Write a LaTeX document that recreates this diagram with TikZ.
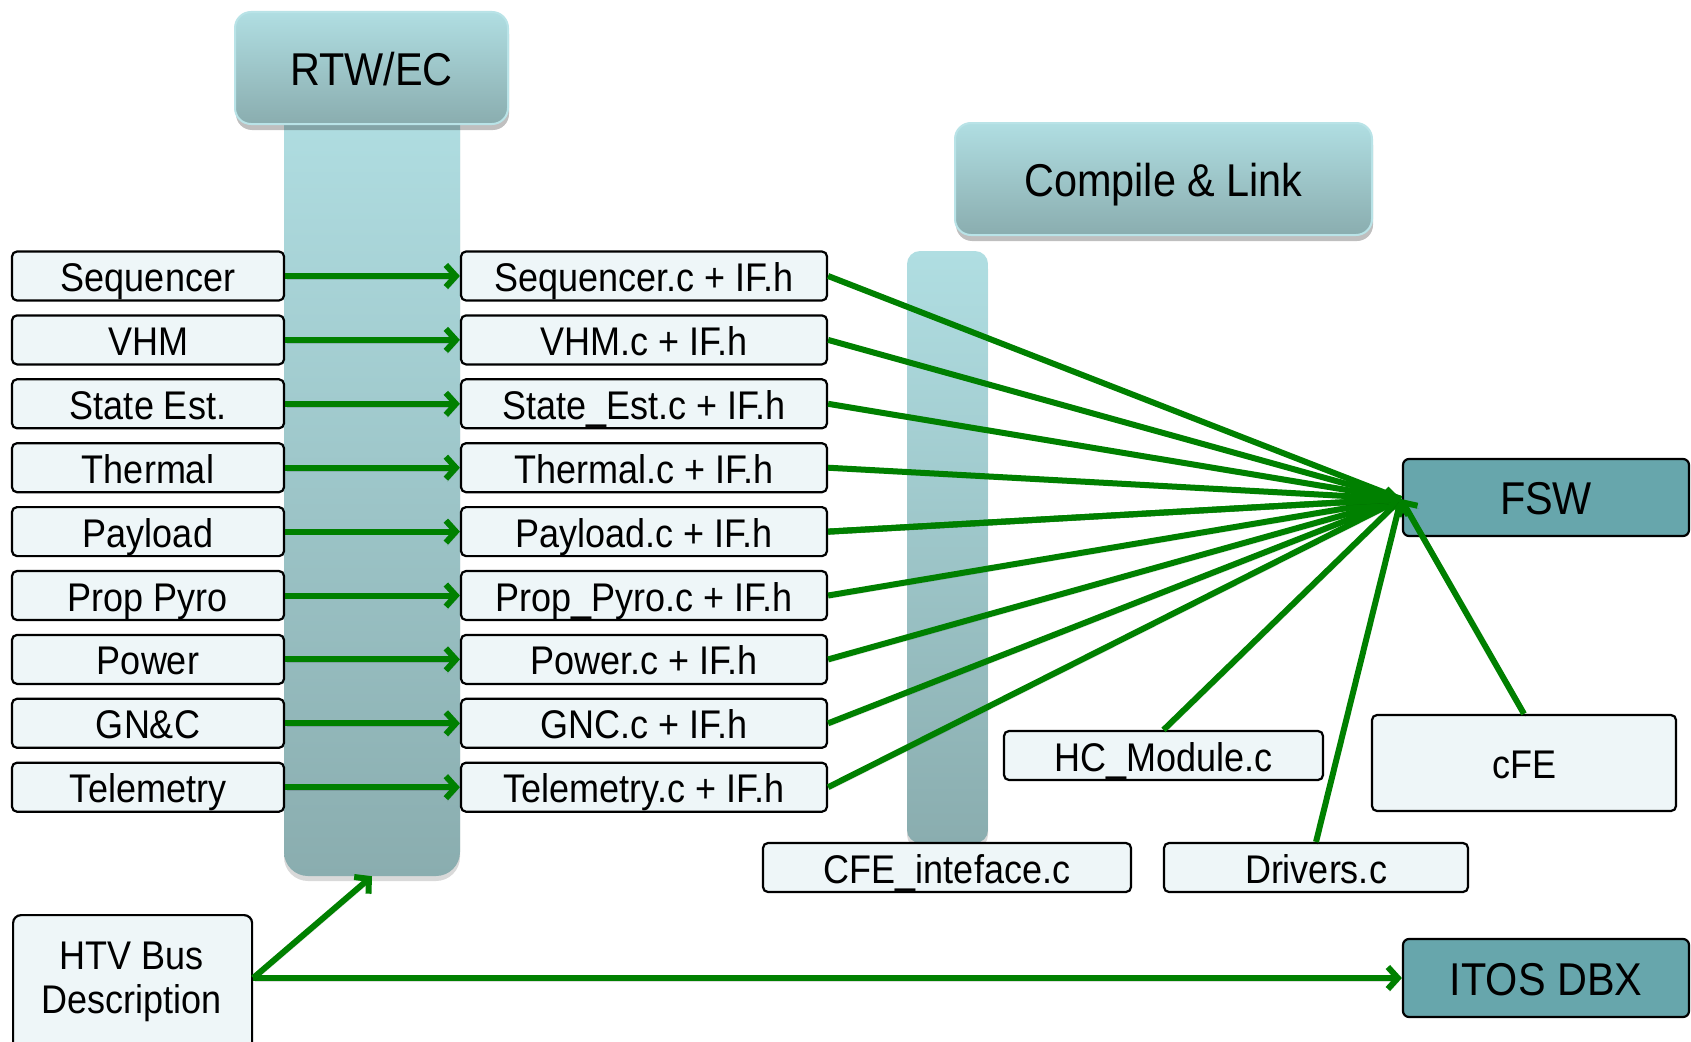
\documentclass[tikz,border=0pt]{standalone}
\usepackage{fontspec}
\setmainfont{Liberation Sans}[FakeStretch=0.9]
\usetikzlibrary{arrows.meta,shadows}

\definecolor{boxfill}{HTML}{EEF6F8}
\definecolor{tealtop}{HTML}{B0DEE2}
\definecolor{tealbot}{HTML}{8AADAF}
\definecolor{tealrim}{HTML}{B9E3E7}
\definecolor{tealdark}{HTML}{67A6AC}
\definecolor{flow}{HTML}{008000}

\tikzset{
  filebox/.style={draw=black, line width=2.2pt, fill=boxfill, rounded corners=5pt,
    inner sep=0pt, text height=33pt, text depth=2pt,
    font=\fontsize{40}{47}\selectfont},
  stagebox/.style={draw=tealrim, line width=2pt, top color=tealtop, bottom color=tealbot,
    rounded corners=16pt, inner sep=0pt, text height=36pt, text depth=2pt,
    drop shadow={shadow xshift=1pt, shadow yshift=-6pt, opacity=0.25, fill=black},
    font=\fontsize{46}{52}\selectfont},
  column/.style={top color=tealtop, bottom color=tealbot, inner sep=0pt,
    drop shadow={shadow xshift=0pt, shadow yshift=-5pt, opacity=0.15, fill=black}},
  targetbox/.style={draw=black, line width=2.2pt, fill=tealdark, rounded corners=6pt,
    inner sep=0pt, text height=36pt, text depth=2pt,
    font=\fontsize{46}{52}\selectfont},
  flowline/.style={draw=flow, line width=6pt,
    preaction={draw=black, opacity=0.13, transform canvas={shift={(1.5pt,-3pt)}}}},
  flowarrow/.style={flowline, -{Straight Barb[length=10pt,width=22pt]}},
}

\begin{document}
\begin{tikzpicture}[x=1pt,y=-1pt]
\clip (0,0) rectangle (1691,1041);
\fill[white] (0,0) rectangle (1691,1041);

% translucent process columns
\node[column, rounded corners=24pt, minimum width=176pt, minimum height=776pt] (col) at (372,488) {};
\node[column, rounded corners=13pt, minimum width=81pt, minimum height=592pt] (link) at (947.5,547) {};

% stage headers
\node[stagebox, minimum width=273pt, minimum height=112pt] (rtw) at (371.5,68) {RTW/EC};
\node[stagebox, minimum width=417pt, minimum height=112pt] (cl) at (1163.5,179) {Compile \& Link};

% model blocks and generated sources
\foreach \i/\l/\m in {0/Sequencer/Sequencer.c + IF.h,
                      1/VHM/VHM.c + IF.h,
                      2/State Est./State\_Est.c + IF.h,
                      3/Thermal/Thermal.c + IF.h,
                      4/Payload/Payload.c + IF.h,
                      5/Prop Pyro/Prop\_Pyro.c + IF.h,
                      6/Power/Power.c + IF.h,
                      7/GN\&C/GNC.c + IF.h,
                      8/Telemetry/Telemetry.c + IF.h}{
  \node[filebox, minimum width=272pt, minimum height=49pt] (l\i) at (148,276+63.9*\i) {\l};
  \node[filebox, minimum width=366pt, minimum height=49pt] (m\i) at (644,276+63.9*\i) {\m};
}

% other sources
\node[filebox, minimum width=319pt, minimum height=49pt] (hc) at (1163.5,755.5) {HC\_Module.c};
\node[filebox, minimum width=304pt, minimum height=96pt] (cfe) at (1524,763) {cFE};
\node[filebox, minimum width=368pt, minimum height=49pt] (cfeif) at (947,867.5) {CFE\_inteface.c};
\node[filebox, minimum width=304pt, minimum height=49pt] (drv) at (1316,867.5) {Drivers.c};
\node[filebox, minimum width=239pt, minimum height=150pt, anchor=north west, rounded corners=8pt] (htv) at (12,914) {};
\node[font=\fontsize{40}{44}\selectfont, align=center] (htvtext) at (131.5,982) {HTV Bus\\Description};

% products
\node[targetbox, minimum width=286pt, minimum height=77pt] (fsw) at (1546,497.5) {FSW};
\node[targetbox, minimum width=286pt, minimum height=78pt] (itos) at (1546,978) {ITOS DBX};

\coordinate (fswin) at (1401,499);

% code generation
\foreach \i in {0,...,8}{
  \draw[flowarrow] (l\i.east) -- (m\i.west);
}
% compile and link into flight software
\foreach \i in {0,...,8}{
  \draw[flowline] (m\i.east) -- (fswin);
}
\draw[flowarrow] (hc.north) -- (fswin);
\draw[flowarrow] (drv.north) -- (fswin);
\draw[flowarrow] (cfe.north) -- (fswin);
\draw[flowarrow] (m4.east) -- (fswin);

% bus description feeds
\draw[flowarrow] (htv.east |- itos.west) -- (itos.west);
\draw[flowarrow] (htv.east |- itos.west) -- (col.south);
\end{tikzpicture}
\end{document}
